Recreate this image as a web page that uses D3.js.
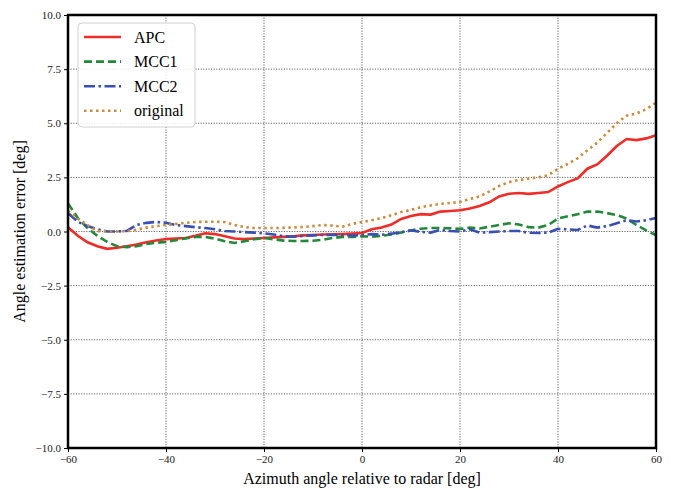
<!DOCTYPE html>
<html>
<head>
<meta charset="utf-8">
<style>
body { margin: 0; background: #fff; }
text { font-family: "Liberation Serif", "DejaVu Serif", serif; }
.grid line { stroke: #444; stroke-width: 0.8; stroke-dasharray: 1.2,1.4; }
.axis path { display: none; }
.axis line { stroke: #000; }
</style>
</head>
<body>
<script src="https://cdn.jsdelivr.net/npm/d3@7"></script>
<script>

// azimuth angles, every 2 deg
var angles = d3.range(-60, 61, 2);

var apc = [0.2, -0.2, -0.5, -0.68, -0.8, -0.75, -0.68, -0.6, -0.5, -0.42,
  -0.35, -0.32, -0.3, -0.2, -0.08, -0.12, -0.22, -0.32, -0.35, -0.32,
  -0.3, -0.27, -0.25, -0.22, -0.18, -0.16, -0.14, -0.13, -0.12, -0.1,
  -0.07, 0.1, 0.18, 0.32, 0.58, 0.72, 0.8, 0.78, 0.92, 0.95,
  0.98, 1.06, 1.18, 1.35, 1.62, 1.74, 1.78, 1.74, 1.78, 1.82,
  2.08, 2.28, 2.45, 2.9, 3.1, 3.5, 3.95, 4.27, 4.22, 4.3, 4.45];

var mcc1 = [1.3, 0.62, 0.15, -0.2, -0.48, -0.68, -0.72, -0.68, -0.58, -0.52,
  -0.48, -0.4, -0.32, -0.25, -0.25, -0.33, -0.45, -0.53, -0.45, -0.36,
  -0.3, -0.36, -0.42, -0.44, -0.44, -0.43, -0.38, -0.3, -0.25, -0.25,
  -0.22, -0.24, -0.2, -0.14, -0.05, 0.05, 0.13, 0.16, 0.16, 0.15,
  0.12, 0.18, 0.14, 0.22, 0.3, 0.38, 0.32, 0.2, 0.18, 0.3,
  0.6, 0.7, 0.8, 0.92, 0.92, 0.85, 0.76, 0.6, 0.3, 0.05, -0.16];

var mcc2 = [0.85, 0.45, 0.25, 0.1, 0.0, 0.0, 0.03, 0.3, 0.4, 0.44,
  0.4, 0.3, 0.25, 0.2, 0.16, 0.1, 0.02, 0.0, -0.03, -0.05,
  -0.08, -0.14, -0.22, -0.24, -0.2, -0.18, -0.16, -0.16, -0.16, -0.19,
  -0.16, -0.12, -0.15, -0.1, -0.03, 0.06, -0.02, -0.05, 0.07, 0.02,
  0.0, 0.1, -0.05, -0.03, 0.0, 0.02, 0.02, -0.06, -0.07, -0.05,
  0.12, 0.1, 0.07, 0.28, 0.18, 0.25, 0.38, 0.52, 0.46, 0.52, 0.62];

var original = [0.95, 0.6, 0.3, 0.02, 0.0, 0.0, 0.02, 0.08, 0.18, 0.25,
  0.3, 0.35, 0.4, 0.44, 0.45, 0.45, 0.44, 0.3, 0.2, 0.16,
  0.16, 0.16, 0.17, 0.19, 0.21, 0.25, 0.3, 0.27, 0.22, 0.35,
  0.44, 0.52, 0.62, 0.75, 0.9, 1.0, 1.12, 1.2, 1.28, 1.32,
  1.36, 1.5, 1.62, 1.85, 2.1, 2.28, 2.38, 2.44, 2.5, 2.6,
  2.9, 3.12, 3.38, 3.75, 4.1, 4.55, 5.0, 5.35, 5.45, 5.65, 5.95];

var xTicks = [-60, -40, -20, 0, 20, 40, 60];
var yTicks = [-10, -7.5, -5, -2.5, 0, 2.5, 5, 7.5, 10];

var series = [
  {name: "APC", values: apc, color: "#ee2c28", dash: null},
  {name: "MCC1", values: mcc1, color: "#23883a", dash: "8,4"},
  {name: "MCC2", values: mcc2, color: "#3a4fb3", dash: "11,3.5,2.5,3.5"},
  {name: "original", values: original, color: "#cc8c3c", dash: "2.5,3.5"}
];

var width = 675, height = 492;
var margin = {left: 68, right: 19, top: 15, bottom: 44};

var svg = d3.select("body").append("svg")
    .attr("width", width)
    .attr("height", height);

var x = d3.scaleLinear().domain([-60, 60]).range([margin.left, width - margin.right]);
var y = d3.scaleLinear().domain([-10, 10]).range([height - margin.bottom, margin.top]);

// grid
var grid = svg.append("g").attr("class", "grid");
grid.selectAll(".gx").data(xTicks.slice(1, -1)).enter().append("line")
    .attr("x1", function(d) { return x(d); })
    .attr("x2", function(d) { return x(d); })
    .attr("y1", y(10)).attr("y2", y(-10));
grid.selectAll(".gy").data(yTicks.slice(1, -1)).enter().append("line")
    .attr("y1", function(d) { return y(d); })
    .attr("y2", function(d) { return y(d); })
    .attr("x1", x(-60)).attr("x2", x(60));

// axes
var xAxis = svg.append("g").attr("class", "axis")
    .attr("transform", "translate(0," + y(-10) + ")")
    .call(d3.axisBottom(x).tickValues(xTicks).tickSize(4).tickPadding(3)
      .tickFormat(function(d) { return d < 0 ? "\u2212" + Math.abs(d) : d; }));

var yAxis = svg.append("g").attr("class", "axis")
    .attr("transform", "translate(" + x(-60) + ",0)")
    .call(d3.axisLeft(y).tickValues(yTicks).tickSize(4).tickPadding(3)
      .tickFormat(function(d) { var s = d3.format(".1f")(Math.abs(d)); return d < 0 ? "\u2212" + s : s; }));

svg.selectAll(".axis text")
    .style("font-family", "'Liberation Serif', serif")
    .style("font-size", "11px")
    .style("fill", "#222");

// lines
var line = d3.line()
    .x(function(d, i) { return x(angles[i]); })
    .y(function(d) { return y(d); });

svg.append("g").selectAll("path")
    .data(series)
    .enter().append("path")
    .attr("d", function(d) { return line(d.values); })
    .attr("fill", "none")
    .attr("stroke", function(d) { return d.color; })
    .attr("stroke-width", 2.6)
    .attr("stroke-dasharray", function(d) { return d.dash; });

// frame
svg.append("rect")
    .attr("x", x(-60)).attr("y", y(10))
    .attr("width", x(60) - x(-60)).attr("height", y(-10) - y(10))
    .attr("fill", "none").attr("stroke", "#000").attr("stroke-width", 2.5);

// legend
var legend = svg.append("g");
legend.append("rect")
    .attr("x", 78).attr("y", 23).attr("width", 117).attr("height", 104)
    .attr("rx", 4).attr("fill", "#fff").attr("fill-opacity", 0.85)
    .attr("stroke", "#d0d0d0");

var item = legend.selectAll(".item").data(series).enter().append("g")
    .attr("transform", function(d, i) { return "translate(0," + (37 + i * 24.6) + ")"; });
item.append("line")
    .attr("x1", 84).attr("x2", 121).attr("y1", 0).attr("y2", 0)
    .attr("stroke", function(d) { return d.color; })
    .attr("stroke-width", 2.6)
    .attr("stroke-dasharray", function(d) { return d.dash; });
item.append("text")
    .attr("x", 134).attr("y", 5.5)
    .style("font-size", "16px")
    .text(function(d) { return d.name; });

// axis labels
svg.append("text")
    .attr("x", x(0)).attr("y", 484)
    .attr("text-anchor", "middle")
    .style("font-size", "16px")
    .text("Azimuth angle relative to radar [deg]");

svg.append("text")
    .attr("transform", "translate(25," + y(0) + ") rotate(-90)")
    .attr("text-anchor", "middle")
    .style("font-size", "16px")
    .text("Angle estimation error [deg]");

</script>
</body>
</html>
